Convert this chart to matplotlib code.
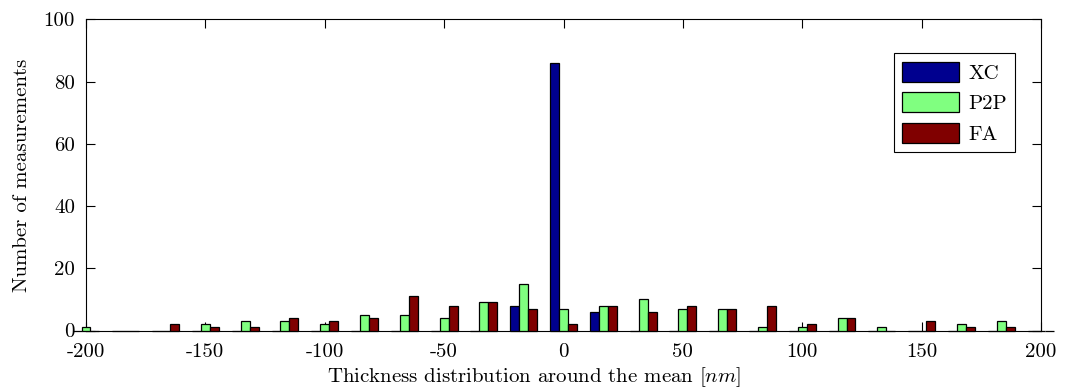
import numpy as np
import matplotlib
matplotlib.use("Agg")
import matplotlib.pyplot as plt

# counts per thickness bin, 25 bins from -200 to 200 nm
bin_lo, bin_hi, n_bins = -200, 200, 25
xc_counts = [0, 0, 0, 0, 0, 0, 0, 0, 0, 0, 0, 8, 86, 6, 0, 0, 0, 0, 0, 0, 0, 0, 0, 0, 0]
p2p_counts = [1, 0, 0, 2, 3, 3, 2, 5, 5, 4, 9, 15, 7, 8, 10, 7, 7, 1, 1, 4, 1, 0, 2, 3, 0]
fa_counts = [0, 0, 2, 1, 1, 4, 3, 4, 11, 8, 9, 7, 2, 8, 6, 8, 7, 8, 2, 4, 0, 3, 1, 1, 0]
series_names = ["XC", "P2P", "FA"]
colors = ["#00008F", "#80FF80", "#800000"]

plt.rcParams["font.family"] = "cmr10"
plt.rcParams["mathtext.fontset"] = "cm"
plt.rcParams["axes.unicode_minus"] = False
plt.rcParams["font.size"] = 15

centers = np.linspace(bin_lo, bin_hi, n_bins)
bar_w = 3.75

fig = plt.figure(figsize=(10.68, 3.92), dpi=100)
ax = fig.add_axes([86 / 1068, 61.5 / 392, 955 / 1068, 311.2 / 392])

for i, (name, vals, c) in enumerate(zip(series_names, [xc_counts, p2p_counts, fa_counts], colors)):
    ax.bar(centers + (i - 1) * bar_w, vals, width=bar_w, color=c, edgecolor="black",
           linewidth=0.9, label=name, clip_on=False, zorder=3)

ax.set_xlim(-200, 200)
ax.set_ylim(0, 100)
ax.set_xticks(np.arange(-200, 201, 50))
ax.set_yticks(np.arange(0, 101, 20))
ax.tick_params(direction="in", length=6.5, width=0.8, top=True, right=True)
ax.tick_params(axis="x", pad=9)
ax.tick_params(axis="y", pad=8)
for s in ax.spines.values():
    s.set_linewidth(0.8)

ax.set_xlabel(r"Thickness distribution around the mean $[nm]$")
ax.xaxis.set_label_coords(0.469, -0.112)
ax.set_ylabel("Number of measurements", labelpad=9)

leg = ax.legend(loc="upper right", bbox_to_anchor=(0.9728, 0.8907), borderaxespad=0,
                fancybox=False, edgecolor="black", framealpha=1, handlelength=2.7,
                handleheight=1.1, labelspacing=0.45, handletextpad=0.45, borderpad=0.4)
leg.get_frame().set_linewidth(0.8)

fig.savefig("out.png", dpi=100)
